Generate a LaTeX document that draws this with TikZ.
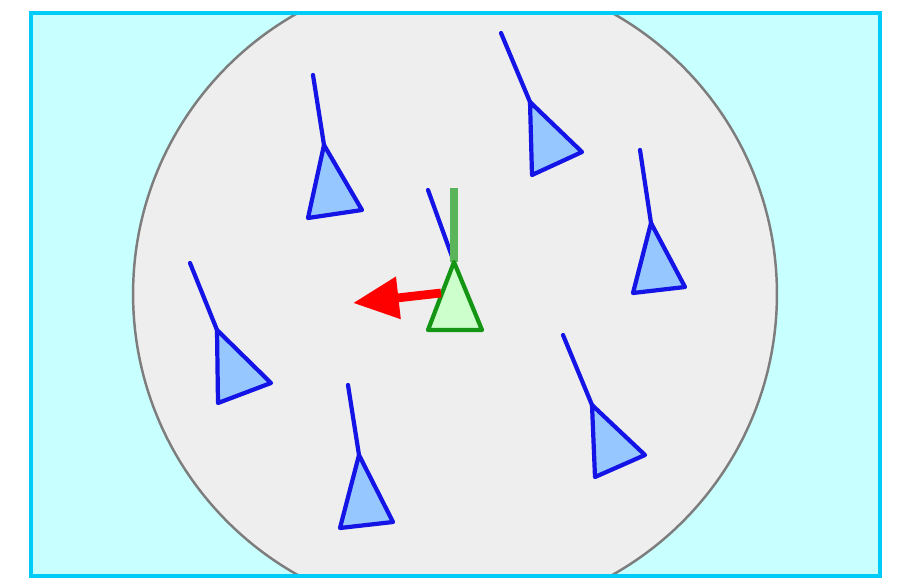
\documentclass[tikz,border=0pt]{standalone}
\usepackage{tikz}
\usetikzlibrary{arrows.meta}
\definecolor{fieldcyan}{RGB}{200,255,255}
\definecolor{edgecyan}{RGB}{0,204,250}
\definecolor{diskgray}{RGB}{238,238,238}
\definecolor{rimgray}{RGB}{125,125,125}
\definecolor{boidblue}{RGB}{20,20,230}
\definecolor{boidfill}{RGB}{150,200,255}
\definecolor{leadgreen}{RGB}{20,150,20}
\definecolor{leadfill}{RGB}{204,255,204}
\definecolor{headgreen}{RGB}{90,180,90}

\begin{document}
\begin{tikzpicture}[x=0.02cm, y=-0.02cm,
  boidline/.style={boidblue, line width=2.4pt, line cap=round},
  boidbody/.style={draw=boidblue, fill=boidfill, line width=2.4pt, line join=round}]
  \useasboundingbox (0,0) rectangle (899,578);
  % Field
  \fill[fieldcyan] (31,13) rectangle (880,576);
  % Neighbourhood disk
  \begin{scope}
    \clip (31,13) rectangle (880,576);
    \draw[rimgray, fill=diskgray, line width=1.4pt] (455,294) circle[radius=6.44cm];
  \end{scope}
  \draw[edgecyan, line width=1.8pt] (31,13) rectangle (880,576);
  % Neighbours: tail / apex / base corners
  \foreach \tx/\ty/\ax/\ay/\bx/\by/\cx/\cy in {
      313/75/324/145/308/218/362/210,
      190/263/217/330/218/403/271/383,
      348/385/359/455/340/528/393/522,
      563/335/592/405/595/477/645/455,
      501/33/530/102/532/175/582/152,
      640/150/651/223/633/293/685/287}{
    \draw[boidbody] (\ax,\ay) -- (\bx,\by) -- (\cx,\cy) -- cycle;
    \draw[boidline] (\tx,\ty) -- (\ax,\ay);
  }
  % Focal boid
  \coordinate (lead) at (454,262);
  \coordinate (leadL) at (428,330);
  \coordinate (leadR) at (482,330);
  \coordinate (avgtail) at (428,190);
  \coordinate (headtail) at (454,188);
  \draw[boidline] (avgtail) -- (lead);
  \draw[headgreen, line width=4pt] (headtail) -- (lead);
  \draw[draw=leadgreen, fill=leadfill, line width=2.4pt, line join=round] (lead) -- (leadL) -- (leadR) -- cycle;
  % Steering
  \coordinate (steerfrom) at (441,293);
  \coordinate (steerto) at (353,303);
  \draw[red, line width=5pt, -{Triangle[length=26pt, width=23pt]}] (steerfrom) -- (steerto);
\end{tikzpicture}
\end{document}
